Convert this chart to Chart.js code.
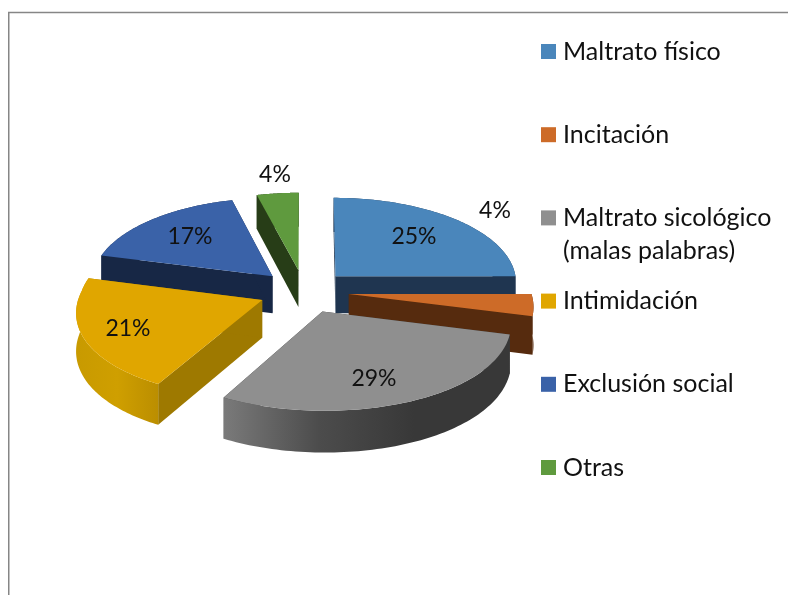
<!DOCTYPE html>
<html>
<head>
<meta charset="utf-8">
<style>html,body{margin:0;padding:0;background:#fff}canvas{display:block}</style>
<script src="https://cdn.jsdelivr.net/npm/chart.js@4/dist/chart.umd.min.js"></script>
</head>
<body>
<canvas id="c" width="788" height="595"></canvas>
<script>
const categories = ["Maltrato físico","Incitación","Maltrato sicológico (malas palabras)","Intimidación","Exclusión social","Otras"];
const legendLines = [["Maltrato físico"],["Incitación"],["Maltrato sicológico","(malas palabras)"],["Intimidación"],["Exclusión social"],["Otras"]];
const values = [25,4,29,21,17,4];
const topColors = ["#4a86bb","#cd6b28","#8f8f8f","#e0a600","#3a62a8","#5f9a3e"];
const wallColors = ["#1f3550","#562b0e","#3a3a3a","#9e7900","#172745","#273d17"];
const rimStops = [
  ["#1f3550","#1f3550"],
  ["#562b0e","#562b0e"],
  ["#7a7a7a","#4c4c4c","#383838","#383838"],
  ["#c89a00","#cf9f00","#bb8e00"],
  ["#172745","#172745"],
  ["#273d17","#273d17"]
];
const labelOffsets = [[110,-55],[191,-81],[70,87],[-176,37],[-114,-55],[-29,-117]];
const paintOrder = [5,4,0,3,1,2];

const D = 37.5, K = 0.48, PX_BACK = 0.00035, PX_FRONT = 0.00065, PY = 0.00046;

const pie3d = {
  id: "pie3d",
  beforeDraw(chart) {
    const c = chart.ctx;
    c.save();
    c.strokeStyle = "#868686";
    c.lineWidth = 1.5;
    c.beginPath();
    c.moveTo(8.75, 595);
    c.lineTo(8.75, 12.5);
    c.lineTo(788, 12.5);
    c.stroke();
    c.restore();
  },
  beforeDatasetDraw(chart, args) {
    const meta = args.meta, c = chart.ctx;
    paintOrder.forEach(i => {
      const el = meta.data[i];
      const o = el.options.offset;
      const mid = (el.startAngle + el.endAngle) / 2;
      const ox = o * Math.cos(mid), oy = o * Math.sin(mid);
      const proj = (wx, wy, z) => {
        const wS = 1 / (1 - PY * wy);
        const px = wy < 0 ? PX_BACK : PX_FRONT;
        return [el.x + wx / (1 - px * wy), el.y + K * wy * wS + z * D * wS];
      };
      const rim = [];
      const n = 80;
      for (let k = 0; k <= n; k++) {
        const a = el.startAngle + (el.endAngle - el.startAngle) * k / n;
        rim.push([ox + el.outerRadius * Math.cos(a), oy + el.outerRadius * Math.sin(a)]);
      }
      const path = pts => {
        c.beginPath();
        pts.forEach((p, j) => j ? c.lineTo(p[0], p[1]) : c.moveTo(p[0], p[1]));
        c.closePath();
      };
      const apexT = proj(ox, oy, 0), apexB = proj(ox, oy, 1);
      [rim[0], rim[n]].forEach(e => {
        path([apexT, proj(e[0], e[1], 0), proj(e[0], e[1], 1), apexB]);
        c.fillStyle = wallColors[i];
        c.fill();
      });
      const tops = rim.map(p => proj(p[0], p[1], 0));
      const bots = rim.map(p => proj(p[0], p[1], 1));
      const xs = tops.map(p => p[0]);
      const g = c.createLinearGradient(Math.min(...xs), 0, Math.max(...xs), 0);
      rimStops[i].forEach((s, j, arr) => g.addColorStop(j / (arr.length - 1), s));
      path(tops.concat(bots.slice().reverse()));
      c.fillStyle = g;
      c.fill();
      path([apexT].concat(tops));
      c.fillStyle = topColors[i];
      c.fill();
    });
    return false;
  },
  afterDraw(chart) {
    const c = chart.ctx, el0 = chart.getDatasetMeta(0).data[0];
    c.save();
    c.fillStyle = "#111";
    c.textBaseline = "middle";
    c.font = "23px Lato";
    c.textAlign = "center";
    values.forEach((v, i) => {
      c.fillText(v + "%", el0.x + labelOffsets[i][0], el0.y + labelOffsets[i][1]);
    });
    c.textAlign = "left";
    c.font = "25px Lato";
    legendLines.forEach((lines, i) => {
      const y = 51.5 + i * 83.2;
      c.fillStyle = topColors[i];
      c.fillRect(541, y - 7.5, 15, 15);
      c.fillStyle = "#111";
      lines.forEach((t, j) => c.fillText(t, 563, y + j * 33));
    });
    c.restore();
  }
};

new Chart(document.getElementById("c"), {
  type: "pie",
  data: {
    labels: categories,
    datasets: [{
      data: values,
      backgroundColor: topColors,
      borderWidth: 0,
      offset: 45,
      hoverOffset: 0,
      radius: 182
    }]
  },
  options: {
    responsive: false,
    animation: false,
    events: [],
    layout: { padding: { left: 0, top: 0, right: 180, bottom: 12.4 } },
    plugins: { legend: { display: false }, tooltip: { enabled: false } }
  },
  plugins: [pie3d]
});
</script>
</body>
</html>
